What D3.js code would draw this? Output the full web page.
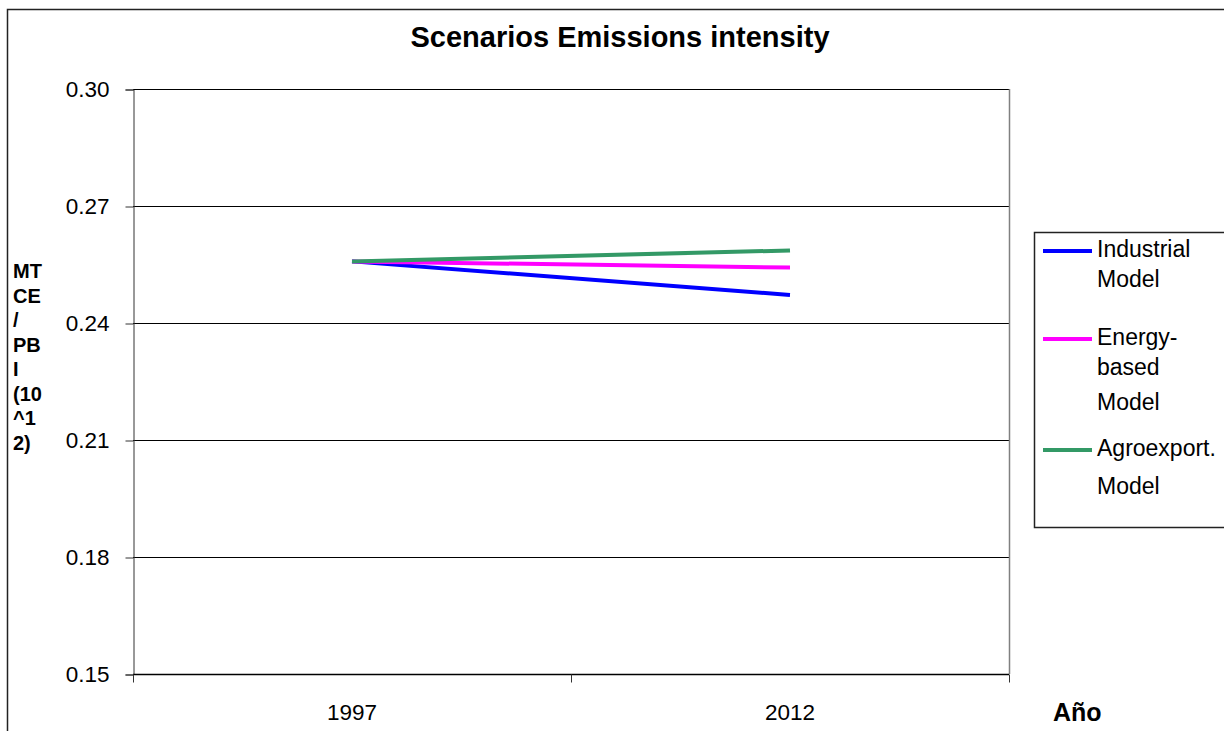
<!DOCTYPE html>
<html>
<head>
<meta charset="utf-8">
<script src="https://cdn.jsdelivr.net/npm/d3@7"></script>
<style>
  html, body { margin: 0; padding: 0; background: #fff; }
  svg { display: block; font-family: Arial, "Liberation Sans", sans-serif; }
</style>
</head>
<body>
<svg id="chart" width="1224" height="731"></svg>
<script>
// Category years on the x axis
const years = ["1997", "2012"];
// Emission intensity per scenario (MTCE / PBI 10^12)
const industrial = [0.2558, 0.2472];
const energyBased = [0.2558, 0.2542];
const agroexport = [0.2558, 0.2586];
// Scenario labels (wrapped as in the legend)
const seriesNames = [["Industrial", "Model"], ["Energy-", "based", "Model"], ["Agroexport.", "Model"]];
const seriesColors = ["#0000ff", "#ff00ff", "#339966"];
// Y axis ticks
const yTicks = [0.15, 0.18, 0.21, 0.24, 0.27, 0.30];

const series = [industrial, energyBased, agroexport];

const svg = d3.select("#chart");
const plot = { left: 133, right: 1009, top: 89, bottom: 674 };

// Outer chart frame (top and left edges visible)
svg.append("path")
  .attr("d", "M7.5,731 L7.5,9.5 L1224,9.5")
  .attr("fill", "none").attr("stroke", "#222").attr("stroke-width", 1.5);

// Title
svg.append("text")
  .attr("x", 620).attr("y", 47)
  .attr("text-anchor", "middle")
  .attr("font-weight", "bold").attr("font-size", 29)
  .text("Scenarios Emissions intensity");

const x = d3.scaleBand().domain(years).range([plot.left, plot.right]);
const y = d3.scaleLinear().domain([0.15, 0.30]).range([plot.bottom, plot.top]);

// Horizontal gridlines
svg.append("g").selectAll("line").data(yTicks).join("line")
  .attr("x1", plot.left).attr("x2", plot.right)
  .attr("y1", d => Math.round(y(d)) + 0.5).attr("y2", d => Math.round(y(d)) + 0.5)
  .attr("stroke", "#000").attr("stroke-width", 1);

// Right border of plot area
svg.append("line")
  .attr("x1", plot.right + 0.5).attr("x2", plot.right + 0.5)
  .attr("y1", plot.top).attr("y2", plot.bottom)
  .attr("stroke", "#808080").attr("stroke-width", 1.5);

// Y axis
const yAxis = d3.axisLeft(y).tickValues(yTicks).tickFormat(d3.format(".2f")).tickSize(8).tickPadding(16);
const gy = svg.append("g").attr("transform", `translate(${plot.left + 0.5},0.5)`).call(yAxis);
gy.select(".domain").attr("stroke", "#333").attr("stroke-width", 1);
gy.selectAll(".tick line").attr("stroke", "#333");
gy.selectAll(".tick text").attr("font-size", 22.5).attr("fill", "#000")
  .attr("font-family", "Arial, 'Liberation Sans', sans-serif");

// X axis: ticks at category boundaries, labels at centres
const gx = svg.append("g").attr("transform", `translate(0,${Math.round(plot.bottom) + 0.5})`);
gx.append("line").attr("x1", plot.left).attr("x2", plot.right)
  .attr("stroke", "#000").attr("stroke-width", 1.5);
const boundaries = [x(years[0]), x(years[1]), x(years[1]) + x.bandwidth()];
gx.selectAll("line.tk").data(boundaries).join("line").attr("class", "tk")
  .attr("x1", d => Math.round(d) + 0.5).attr("x2", d => Math.round(d) + 0.5)
  .attr("y1", 0).attr("y2", 8).attr("stroke", "#333");
gx.selectAll("text").data(years).join("text")
  .attr("x", d => x(d) + x.bandwidth() / 2).attr("y", 45)
  .attr("text-anchor", "middle").attr("font-size", 22.5).text(d => d);

// X axis title
svg.append("text").attr("x", 1053).attr("y", 721)
  .attr("font-weight", "bold").attr("font-size", 25).text("Año");

// Y axis title, wrapped into short lines
const yTitle = ["MT", "CE", "/", "PB", "I", "(10", "^1", "2)"];
svg.append("text").attr("font-weight", "bold").attr("font-size", 20)
  .selectAll("tspan").data(yTitle).join("tspan")
  .attr("x", 13).attr("y", (d, i) => 278 + i * 24.5).text(d => d);

// Series lines
const line = d3.line()
  .x((d, i) => x(years[i]) + x.bandwidth() / 2)
  .y(d => y(d));
svg.append("g").selectAll("path").data(series).join("path")
  .attr("d", line)
  .attr("fill", "none")
  .attr("stroke", (d, i) => seriesColors[i])
  .attr("stroke-width", 4);

// Legend
const legend = svg.append("g");
legend.append("rect")
  .attr("x", 1034.5).attr("y", 232.5).attr("width", 200).attr("height", 295)
  .attr("fill", "#fff").attr("stroke", "#222").attr("stroke-width", 1.5);
const entryY = [251, 339, 450];
const lineGaps = [[0, 30], [0, 30, 65], [0, 38]];
seriesNames.forEach((names, i) => {
  legend.append("line")
    .attr("x1", 1043).attr("x2", 1092)
    .attr("y1", entryY[i]).attr("y2", entryY[i])
    .attr("stroke", seriesColors[i]).attr("stroke-width", 4);
  legend.append("text").attr("font-size", 23)
    .selectAll("tspan").data(names).join("tspan")
    .attr("x", 1097).attr("y", (d, j) => entryY[i] + 6 + lineGaps[i][j])
    .text(d => d);
});
</script>
</body>
</html>
